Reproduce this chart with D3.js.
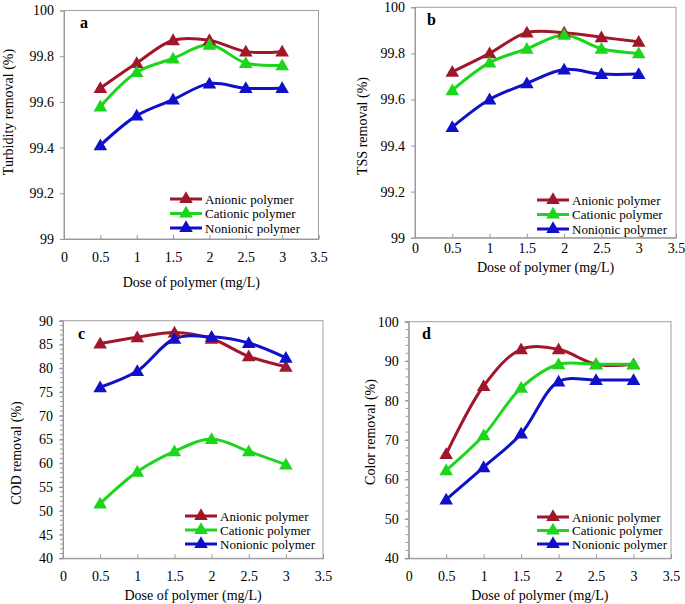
<!DOCTYPE html>
<html><head><meta charset="utf-8">
<script src="https://cdn.jsdelivr.net/npm/d3@7"></script>
<style>body{margin:0;background:#fff}svg{display:block}text{font-family:"Liberation Serif","Times New Roman",serif}</style>
</head><body>
<svg id="c" width="685" height="604"></svg>
<script>
const doses = [0.5, 1, 1.5, 2, 2.5, 3];
const xTicks = [0, 0.5, 1, 1.5, 2, 2.5, 3, 3.5];
const seriesNames = ["Anionic polymer", "Cationic polymer", "Nonionic polymer"];
const seriesColors = ["#A0172B", "#1BD61B", "#1010C8"];

const turbAnionic  = [99.66, 99.77, 99.87, 99.87, 99.82, 99.82];
const turbCationic = [99.58, 99.73, 99.79, 99.85, 99.77, 99.76];
const turbNonionic = [99.41, 99.54, 99.61, 99.68, 99.66, 99.66];

const tssAnionic  = [99.72, 99.80, 99.89, 99.89, 99.87, 99.85];
const tssCationic = [99.64, 99.76, 99.82, 99.88, 99.82, 99.80];
const tssNonionic = [99.48, 99.60, 99.67, 99.73, 99.71, 99.71];

const codAnionic  = [85.2, 86.5, 87.5, 86.2, 82.5, 80.3];
const codCationic = [51.5, 58.2, 62.5, 65.1, 62.5, 59.7];
const codNonionic = [76.0, 79.4, 86.2, 86.6, 85.3, 82.2];

const colAnionic  = [66.4, 83.7, 93.0, 93.0, 89.2, 89.2];
const colCationic = [62.3, 71.2, 83.2, 89.2, 89.2, 89.2];
const colNonionic = [54.9, 63.1, 71.6, 84.8, 85.2, 85.2];

const yTicksA = [99, 99.2, 99.4, 99.6, 99.8, 100];
const yTicksC = [40, 45, 50, 55, 60, 65, 70, 75, 80, 85, 90];
const yTicksD = [40, 50, 60, 70, 80, 90, 100];

const panels = [
  {label:"a", ytitle:"Turbidity removal (%)", series:[turbAnionic,turbCationic,turbNonionic], yDom:[99,100], yTicks:yTicksA, minor:null,
   x0:64, x1:318.5, yTop:10.5, yBot:239, xLabY:257, xTitleY:282, yTitleX:8, yTitleY:112, lblX:80, lblY:22, legX:170, legY:199, legDy:14.5},
  {label:"b", ytitle:"TSS removal (%)", series:[tssAnionic,tssCationic,tssNonionic], yDom:[99,100], yTicks:yTicksA, minor:null,
   x0:415, x1:676, yTop:7.3, yBot:237.7, xLabY:248, xTitleY:267, yTitleX:362, yTitleY:126, lblX:427, lblY:19, legX:537, legY:200, legDy:14.5},
  {label:"c", ytitle:"COD removal (%)", series:[codAnionic,codCationic,codNonionic], yDom:[40,90], yTicks:yTicksC, minor:1,
   x0:63, x1:323, yTop:320.7, yBot:558.3, xLabY:576, xTitleY:595, yTitleX:16, yTitleY:453, lblX:78, lblY:333, legX:185, legY:516, legDy:14},
  {label:"d", ytitle:"Color removal (%)", series:[colAnionic,colCationic,colNonionic], yDom:[40,100], yTicks:yTicksD, minor:2,
   x0:408.7, x1:671, yTop:321.7, yBot:558.3, xLabY:576, xTitleY:595, yTitleX:370, yTitleY:432, lblX:422, lblY:333, legX:537, legY:517, legDy:13.5}
];

const svg = d3.select("#c");
const fmt = v => String(+v.toFixed(1));
const tri = d3.symbol().type(d3.symbolTriangle).size(80);

panels.forEach(p => {
  const g = svg.append("g");
  const x = d3.scaleLinear().domain([0,3.5]).range([p.x0, p.x1]);
  const y = d3.scaleLinear().domain(p.yDom).range([p.yBot, p.yTop]);

  // frame
  g.append("rect").attr("x", p.x0).attr("y", p.yTop).attr("width", p.x1-p.x0).attr("height", p.yBot-p.yTop)
    .attr("fill","none").attr("stroke","#a0a0a0").attr("stroke-width",1);

  // minor ticks
  if (p.minor) {
    const minorVals = d3.range(p.yDom[0], p.yDom[1]+0.001, p.minor);
    g.append("g").selectAll("line").data(minorVals).join("line")
      .attr("x1", p.x0-3).attr("x2", p.x0).attr("y1", d=>y(d)).attr("y2", d=>y(d))
      .attr("stroke","#999").attr("stroke-width",1);
  }

  // y axis
  const ya = g.append("g").attr("transform",`translate(${p.x0},0)`)
    .call(d3.axisLeft(y).tickValues(p.yTicks).tickFormat(fmt).tickSize(4).tickPadding(6));
  ya.select(".domain").attr("stroke","#999");
  ya.selectAll(".tick line").attr("stroke","#999");
  ya.selectAll(".tick text").attr("font-size", 14).attr("fill","#000").attr("font-family","Liberation Serif");

  // x axis
  const xa = g.append("g").attr("transform",`translate(0,${p.yBot})`)
    .call(d3.axisBottom(x).tickValues(xTicks).tickFormat(fmt).tickSize(-4).tickPadding(0));
  xa.select(".domain").attr("stroke","#999");
  xa.selectAll(".tick line").attr("stroke","#999");
  xa.selectAll(".tick text").attr("font-size", 14).attr("fill","#000").attr("font-family","Liberation Serif")
    .attr("y", p.xLabY - p.yBot).attr("dy","0.35em");

  // titles
  g.append("text").attr("x", (p.x0+p.x1)/2).attr("y", p.xTitleY).attr("dy","0.35em")
    .attr("text-anchor","middle").attr("font-size",14).text("Dose of polymer (mg/L)");
  g.append("text").attr("transform",`translate(${p.yTitleX},${p.yTitleY}) rotate(-90)`).attr("dy","0.35em")
    .attr("text-anchor","middle").attr("font-size",14).text(p.ytitle);
  g.append("text").attr("x", p.lblX).attr("y", p.lblY).attr("dy","0.35em")
    .attr("font-size",16).attr("font-weight","bold").text(p.label);

  // series
  const line = d3.line().x((d,i)=>x(doses[i])).y(d=>y(d)).curve(d3.curveCatmullRom.alpha(0.5));
  p.series.forEach((s, k) => {
    g.append("path").datum(s).attr("d", line).attr("fill","none")
      .attr("stroke", seriesColors[k]).attr("stroke-width", 3).attr("stroke-linejoin","round");
  });
  p.series.forEach((s, k) => {
    g.append("g").selectAll("path").data(s).join("path")
      .attr("d", tri).attr("fill", seriesColors[k])
      .attr("transform", (d,i)=>`translate(${x(doses[i])},${y(d)+1})`);
  });

  // legend
  seriesNames.forEach((n, k) => {
    const ly = p.legY + k*p.legDy;
    g.append("line").attr("x1", p.legX).attr("x2", p.legX+32).attr("y1", ly).attr("y2", ly)
      .attr("stroke", seriesColors[k]).attr("stroke-width",3);
    g.append("path").attr("d", tri).attr("fill", seriesColors[k]).attr("transform",`translate(${p.legX+16},${ly})`);
    g.append("text").attr("x", p.legX+35).attr("y", ly).attr("dy","0.35em").attr("font-size",13).text(n);
  });
});
</script>
</body></html>
